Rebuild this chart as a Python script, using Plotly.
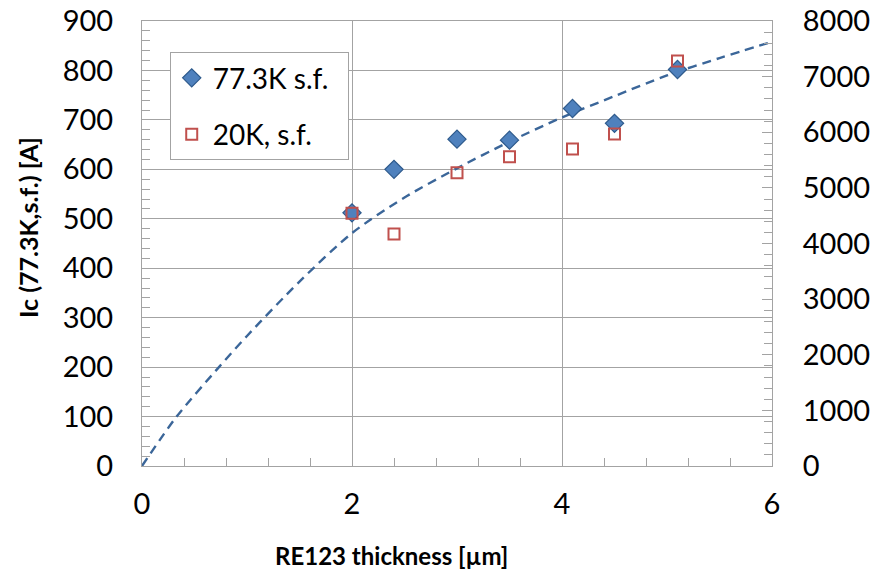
import plotly.graph_objects as go

# ---- data ----
thickness = [2.0, 2.4, 3.0, 3.5, 4.1, 4.5, 5.1]
ic_77k = [512, 600, 661, 659, 723, 693, 802]          # left axis [A]
ic_20k = [4543, 4171, 5273, 5561, 5699, 5968, 7281]   # right axis [A]

fit_x = [0, 0.33, 0.733, 1.0, 1.5, 2.0, 2.5, 3.0, 3.5, 4.0, 4.5, 5.0, 5.5, 6.0]
fit_y = [0, 100, 200, 263, 373, 471, 543, 602, 656, 705, 748, 790, 825, 858]

series_names = ["77.3K s.f.", "20K, s.f."]
x_ticks = [0, 2, 4, 6]
y_ticks = [0, 100, 200, 300, 400, 500, 600, 700, 800, 900]
y2_ticks = [0, 1000, 2000, 3000, 4000, 5000, 6000, 7000, 8000]

FONT = "Lato, 'Open Sans', sans-serif"
GRID = "#a3a3a3"
PAD = "\u00a0\u00a0"

fig = go.Figure()
fig.add_trace(go.Scatter(
    x=fit_x, y=fit_y, mode="lines",
    line=dict(color="#3b6699", width=2.4, dash="9px,6px", shape="spline", smoothing=0.8),
    showlegend=False, hoverinfo="skip"))
fig.add_trace(go.Scatter(
    x=thickness, y=ic_77k, mode="markers", name=series_names[0] + PAD, legendgroup="a",
    marker=dict(symbol="diamond", size=14, color="#4f81bd", line=dict(color="#2e5a8c", width=1.2))))
fig.add_trace(go.Scatter(
    x=thickness, y=ic_20k, mode="markers", name=series_names[1], yaxis="y2", legendgroup="b",
    marker=dict(symbol="square-open", size=11, color="#c0504d", line=dict(color="#c0504d", width=2))))

fig.update_layout(
    width=877, height=572,
    margin=dict(l=142, r=105, t=21, b=106),
    paper_bgcolor="white", plot_bgcolor="white",
    font=dict(family=FONT, size=29, color="#000000"),
    xaxis=dict(range=[0, 6], tickvals=x_ticks, showgrid=True, gridcolor=GRID, gridwidth=1,
               showline=True, linecolor=GRID, linewidth=1, mirror=True, zeroline=False,
               ticks="inside", ticklen=8, tickcolor=GRID, automargin=False,
               minor=dict(dtick=0.4, ticks="inside", ticklen=8, tickcolor=GRID, showgrid=False),
               ticklabelstandoff=12),
    yaxis=dict(range=[0, 900], tickvals=y_ticks, showgrid=True, gridcolor=GRID, gridwidth=1,
               showline=True, linecolor=GRID, linewidth=1, zeroline=False,
               ticks="inside", ticklen=8, tickcolor=GRID, automargin=False,
               minor=dict(dtick=20, ticks="inside", ticklen=8, tickcolor=GRID, showgrid=False),
               ticklabelstandoff=22),
    yaxis2=dict(range=[0, 8000], tickvals=y2_ticks, overlaying="y", side="right", showgrid=False,
                showline=True, linecolor=GRID, linewidth=1, zeroline=False,
                ticks="inside", ticklen=10, tickcolor=GRID, automargin=False,
                minor=dict(dtick=200, ticks="inside", ticklen=8, tickcolor=GRID),
                ticklabelstandoff=24),
    legend=dict(x=0.044, y=0.93, xanchor="left", yanchor="top", bgcolor="white",
                bordercolor=GRID, borderwidth=1, font=dict(size=28), tracegroupgap=17,
                traceorder="grouped", itemwidth=32),
)
fig.add_annotation(text="<b>RE123 thickness [µm]</b>", xref="paper", yref="paper",
                   x=(391 - 142) / 630, y=(466 - 555) / 445, showarrow=False,
                   font=dict(size=24), xanchor="center", yanchor="middle")
fig.add_annotation(text="<b>Ic (77.3K,s.f.) [A]</b>", xref="paper", yref="paper",
                   x=(28 - 142) / 630, y=(466 - 228) / 445, showarrow=False, textangle=-90,
                   font=dict(size=25), xanchor="center", yanchor="middle")

fig.write_html("out.html")
